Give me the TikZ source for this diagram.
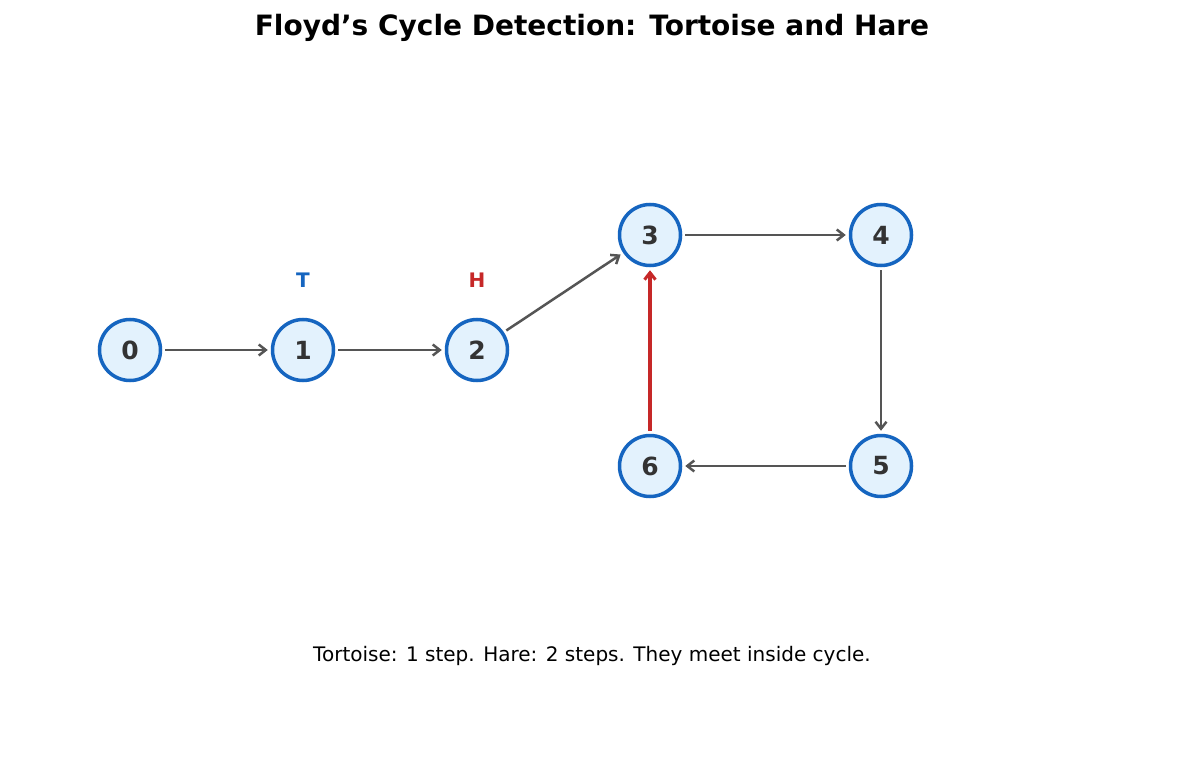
\documentclass[tikz,border=0pt]{standalone}
\usepackage{fontspec}
\setmainfont{DejaVu Sans}
\usetikzlibrary{arrows.meta}
\definecolor{nfill}{HTML}{E3F2FD}
\definecolor{nblue}{HTML}{1565C0}
\definecolor{ntext}{HTML}{333333}
\definecolor{egray}{HTML}{555555}
\definecolor{ered}{HTML}{C62828}
\begin{document}
\begin{tikzpicture}[x=1pt,y=-1pt,
  nd/.style={circle,draw=nblue,fill=nfill,line width=3.5pt,minimum size=61pt,inner sep=0pt,text=ntext,font=\fontsize{25}{25}\selectfont\bfseries},
  ed/.style={draw=egray,line width=2.5pt,-{Straight Barb[length=7pt,width=11pt,line width=2.5pt]},shorten <=3pt,shorten >=3pt},
  lb/.style={font=\fontsize{20}{20}\selectfont\bfseries}]
\useasboundingbox (0,0) rectangle (1185,770);
\node[font=\fontsize{28}{28}\selectfont\bfseries] (title) at (592,28) {Floyd's Cycle Detection: Tortoise and Hare};
\node[nd] (n0) at (130,350) {0};
\node[nd] (n1) at (303,350) {1};
\node[nd] (n2) at (477,350) {2};
\node[nd] (n3) at (650,235) {3};
\node[nd] (n4) at (881,235) {4};
\node[nd] (n5) at (881,466) {5};
\node[nd] (n6) at (650,466) {6};
\node[lb,text=nblue] (t) at (303,280) {T};
\node[lb,text=ered] (h) at (477,280) {H};
\draw[ed] (n0) -- (n1);
\draw[ed] (n1) -- (n2);
\draw[ed] (n2) -- (n3);
\draw[ed] (n3) -- (n4);
\draw[ed] (n4) -- (n5);
\draw[ed] (n5) -- (n6);
\draw[ed,draw=ered,line width=3.5pt,-{Straight Barb[length=7pt,width=11pt,line width=3pt]}] (n6) -- (n3);
\node[font=\fontsize{20}{20}\selectfont] (cap) at (592,656) {Tortoise: 1 step. Hare: 2 steps. They meet inside cycle.};
\end{tikzpicture}
\end{document}
